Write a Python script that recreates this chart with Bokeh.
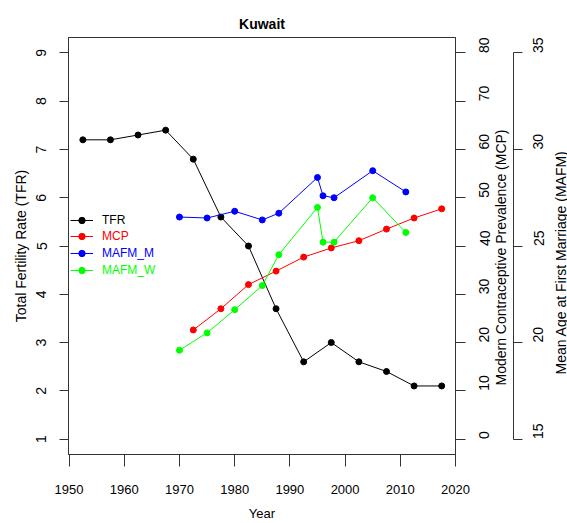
import math
from bokeh.plotting import figure
from bokeh.models import Range1d, LinearAxis, FixedTicker, Legend, LegendItem, Label
from bokeh.embed import file_html
from bokeh.resources import INLINE

# ---- data ----
tfr_years = [1952.5, 1957.5, 1962.5, 1967.5, 1972.5, 1977.5, 1982.5,
             1987.5, 1992.5, 1997.5, 2002.5, 2007.5, 2012.5, 2017.5]
tfr = [7.2, 7.2, 7.3, 7.4, 6.8, 5.6, 5.0, 3.7, 2.6, 3.0, 2.6, 2.4, 2.1, 2.1]

mcp_years = [1972.5, 1977.5, 1982.5, 1987.5, 1992.5, 1997.5, 2002.5,
             2007.5, 2012.5, 2017.5]
mcp = [22.6, 27.0, 32.0, 34.8, 37.7, 39.6, 41.1, 43.5, 45.8, 47.7]

mafm_years = [1970, 1975, 1980, 1985, 1988, 1995, 1996, 1998, 2005, 2011]
mafm_m = [26.5, 26.45, 26.8, 26.35, 26.7, 28.55, 27.6, 27.5, 28.9, 27.8]
mafm_w = [19.6, 20.5, 21.7, 22.95, 24.55, 27.0, 25.2, 25.2, 27.5, 25.7]

x_ticks = [1950, 1960, 1970, 1980, 1990, 2000, 2010, 2020]
tfr_ticks = [1, 2, 3, 4, 5, 6, 7, 8, 9]
mcp_ticks = [0, 10, 20, 30, 40, 50, 60, 70, 80]
mafm_ticks = [15, 20, 25, 30, 35]

title_text = "Kuwait"
x_title = "Year"
tfr_title = "Total Fertility Rate (TFR)"
mcp_title = "Modern Contraceptive Prevalence (MCP)"
mafm_title = "Mean Age at First Marriage (MAFM)"

FONT = "Liberation Sans"
AX = "#333333"

p = figure(width=567, height=523, output_backend="svg", toolbar_location=None,
           x_range=Range1d(1949.9, 2020.0), y_range=Range1d(0.68, 9.32),
           min_border_left=68, min_border_right=112, min_border_top=37,
           min_border_bottom=67, title=title_text)
p.extra_y_ranges = {"mcp": Range1d(-3.2, 83.2), "mafm": Range1d(14.2, 35.8)}

p.title.align = "center"
p.title.text_font = FONT
p.title.text_font_size = "14px"
p.title.text_font_style = "bold"
p.title.text_color = "black"
p.title.standoff = 11

p.xgrid.visible = False
p.ygrid.visible = False
p.outline_line_color = AX
p.outline_line_width = 1
p.background_fill_color = "white"
p.border_fill_color = "white"


def style_axis(ax, size):
    ax.axis_line_color = AX
    ax.major_tick_line_color = AX
    ax.minor_tick_line_color = None
    ax.major_tick_in = 0
    ax.major_label_text_font = FONT
    ax.major_label_text_font_size = size
    ax.major_label_text_color = "black"
    ax.axis_label_text_font = FONT
    ax.axis_label_text_font_size = size
    ax.axis_label_text_font_style = "normal"
    ax.axis_label_text_color = "black"


xa = p.xaxis[0]
style_axis(xa, "13px")
xa.ticker = FixedTicker(ticks=x_ticks)
xa.axis_label = x_title
xa.major_tick_out = 12
xa.major_label_standoff = 18
xa.axis_label_standoff = 9

ya = p.yaxis[0]
style_axis(ya, "14px")
ya.ticker = FixedTicker(ticks=tfr_ticks)
ya.axis_label = tfr_title
ya.major_tick_out = 9
ya.major_label_standoff = 13
ya.major_label_orientation = "vertical"
ya.axis_label_standoff = 5

mcp_axis = LinearAxis(y_range_name="mcp", ticker=FixedTicker(ticks=mcp_ticks))
style_axis(mcp_axis, "14px")
mcp_axis.major_tick_out = 10
mcp_axis.major_label_standoff = 19
mcp_axis.major_label_orientation = math.pi / 2
p.add_layout(mcp_axis, "right")


def side_title(txt, cx, cy):
    # placed in the right-hand panel (not clipped to the frame), canvas pixels
    return Label(x=cx, y=cy, x_units="canvas", y_units="canvas", text=txt,
                 angle=math.pi / 2, text_align="center", text_baseline="middle",
                 text_font=FONT, text_font_size="14px", text_color="black")


p.add_layout(side_title(mcp_title, 500, 257), "right")

mafm_axis = LinearAxis(y_range_name="mafm", ticker=FixedTicker(ticks=mafm_ticks),
                       bounds=(15, 35))
style_axis(mafm_axis, "14px")
mafm_axis.major_tick_out = 9
mafm_axis.major_label_standoff = 16
mafm_axis.major_label_orientation = math.pi / 2
p.add_layout(mafm_axis, "right")

p.add_layout(side_title(mafm_title, 560, 262), "right")

# ---- series ----
series = [
    ("TFR", tfr_years, tfr, "black", "default"),
    ("MCP", mcp_years, mcp, "red", "mcp"),
    ("MAFM_M", mafm_years, mafm_m, "blue", "mafm"),
    ("MAFM_W", mafm_years, mafm_w, "#00ff00", "mafm"),
]

legend_bottoms = [226, 210, 193, 176]
for (name, xs, ys, col, rng), lb in zip(series, legend_bottoms):
    ln = p.line(xs, ys, line_color=col, line_width=1, y_range_name=rng)
    sc = p.scatter(xs, ys, size=6, fill_color=col, line_color=col, y_range_name=rng)
    lg = Legend(items=[LegendItem(label=name, renderers=[ln, sc])],
                location=(2, lb), orientation="vertical",
                padding=0, margin=0, spacing=0,
                glyph_width=23, glyph_height=16, label_height=16,
                label_standoff=9,
                label_text_font=FONT, label_text_font_size="12px",
                label_text_color=col,
                border_line_color=None, background_fill_alpha=0)
    p.add_layout(lg, "center")

open("out.html", "w").write(file_html(p, INLINE))
